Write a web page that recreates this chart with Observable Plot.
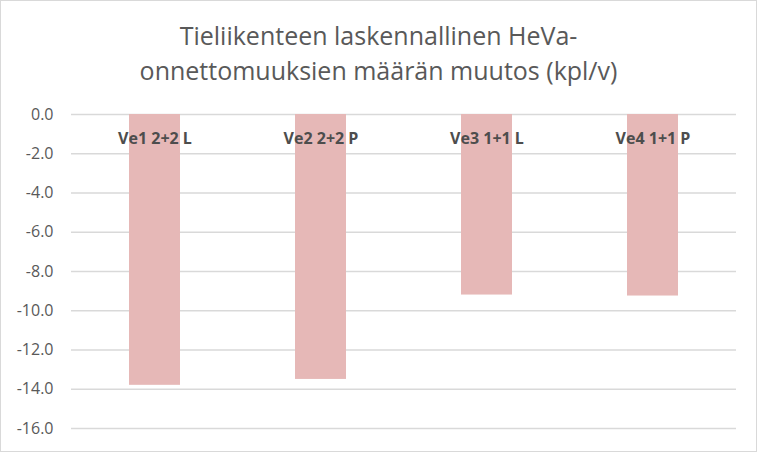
<!DOCTYPE html>
<html>
<head>
<meta charset="utf-8">
<script src="https://cdn.jsdelivr.net/npm/d3@7"></script>
<script src="https://cdn.jsdelivr.net/npm/@observablehq/plot@0.6"></script>
<style>
  html, body { margin: 0; padding: 0; background: #fff; }
  #page { position: relative; width: 757px; height: 452px; overflow: hidden; background: #fff; }
  #frame { position: absolute; left: 0; top: 0; width: 757px; height: 452px; box-sizing: border-box; border: 1px solid #d9d9d9; pointer-events: none; }
  #title { position: absolute; left: 0; top: 18px; width: 757px; text-align: center; font-family: "Open Sans", sans-serif; font-size: 25px; line-height: 35px; color: #595959; white-space: nowrap; }
  #chart { position: absolute; left: 0; top: 95px; }
</style>
</head>
<body>
<div id="page">
  <div id="title">Tieliikenteen laskennallinen HeVa-<br>onnettomuuksien määrän muutos (kpl/v)</div>
  <div id="chart"></div>
  <div id="frame"></div>
</div>
<script>
const categories = ["Ve1 2+2 L", "Ve2 2+2 P", "Ve3 1+1 L", "Ve4 1+1 P"];
const values = [-13.8, -13.5, -9.2, -9.25];
const yTicks = [0, -2, -4, -6, -8, -10, -12, -14, -16];

const data = categories.map((c, i) => ({category: c, value: values[i]}));

const chart = Plot.plot({
  width: 757,
  height: 357,
  marginLeft: 71,
  marginRight: 21,
  marginTop: 19,
  marginBottom: 24,
  style: {fontFamily: "Open Sans, sans-serif", background: "transparent"},
  x: {domain: categories, paddingInner: 0.69, paddingOuter: 0.345, axis: null},
  y: {domain: [-16, 0], ticks: yTicks},
  marks: [
    Plot.ruleY(yTicks, {stroke: "#d9d9d9", strokeWidth: 1.4}),
    Plot.barY(data, {x: "category", y1: 0, y2: "value", fill: "#e6b8b7"}),
    Plot.axisY({ticks: yTicks, tickSize: 0, tickPadding: 18, tickFormat: d => d.toFixed(1), fontSize: 16, fill: "#595959", label: null}),
    Plot.text(data, {x: "category", y: 0, text: "category", dy: 24, fontSize: 16, fontWeight: "bold", fill: "#4d4d4d"})
  ]
});
document.getElementById("chart").appendChild(chart);
</script>
</body>
</html>
